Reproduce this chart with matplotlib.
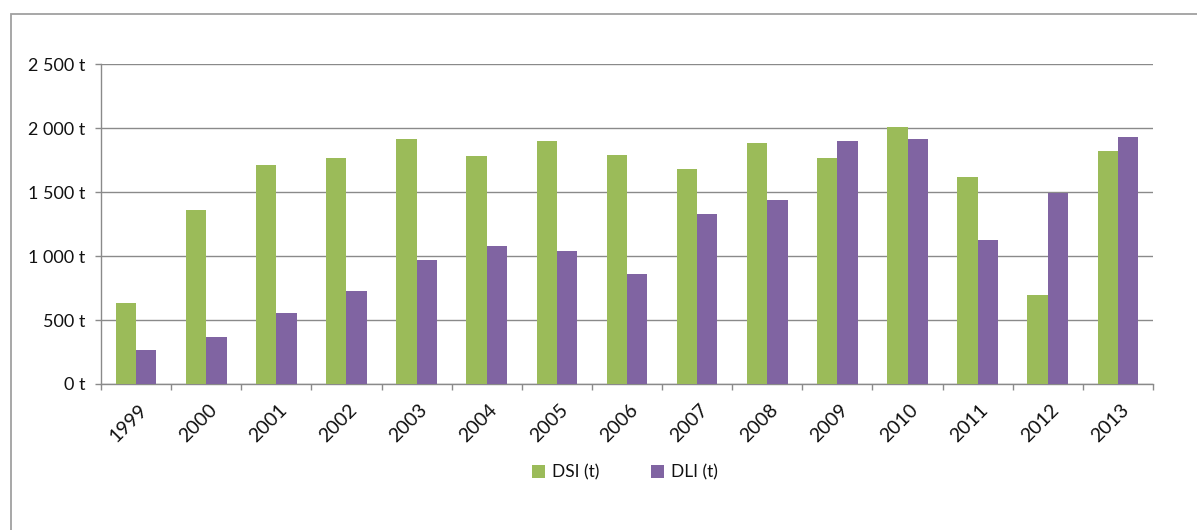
import numpy as np
import matplotlib.pyplot as plt
from matplotlib.patches import Rectangle
from matplotlib.ticker import FuncFormatter, MultipleLocator
from matplotlib.transforms import ScaledTranslation

plt.rcParams['font.family'] = ['Lato', 'DejaVu Sans']

# -----------------------------
# Data
# -----------------------------
years = ["1999", "2000", "2001", "2002", "2003", "2004", "2005", "2006",
         "2007", "2008", "2009", "2010", "2011", "2012", "2013"]
dsi = [635, 1359, 1711, 1768, 1919, 1784, 1904, 1794,
       1685, 1883, 1768, 2010, 1622, 698, 1820]
dli = [266, 365, 555, 727, 971, 1078, 1042, 862,
       1326, 1440, 1904, 1914, 1125, 1492, 1930]

GREEN = "#9BBB59"
PURPLE = "#8064A2"
GRID = "#8a8a8a"
TEXT = "#111111"

# -----------------------------
# Figure
# -----------------------------
fig = plt.figure(figsize=(11.97, 5.30), dpi=100)
ax = fig.add_axes([0.0844, 0.2755, 0.8788, 0.6032])

# outer chart frame (only left/top visible in the crop)
fig.patches.append(Rectangle((0.0092, -0.2), 1.5, 0.9736 + 0.2,
                             transform=fig.transFigure, fill=False,
                             edgecolor="#a0a0a0", lw=1.3, clip_on=False))

x = np.arange(len(years))
w = 0.29
ax.bar(x - w / 2, dsi, w, color=GREEN, label="DSI (t)", zorder=3)
ax.bar(x + w / 2, dli, w, color=PURPLE, label="DLI (t)", zorder=3)

ax.set_xlim(-0.5, len(years) - 0.5)
ax.set_ylim(0, 2500)
ax.yaxis.set_major_locator(MultipleLocator(500))
ax.yaxis.set_major_formatter(
    FuncFormatter(lambda v, p: f"{int(v):,} t".replace(",", " ")))
ax.grid(axis="y", color=GRID, lw=1.0, zorder=0)

for side in ["top", "right"]:
    ax.spines[side].set_visible(False)
for side in ["left", "bottom"]:
    ax.spines[side].set_color(GRID)
    ax.spines[side].set_linewidth(1.0)

ax.tick_params(axis="y", length=4.3, width=1.0, color=GRID, pad=7,
               labelsize=13, labelcolor=TEXT)

# labels at centres, tick marks at category boundaries
ax.set_xticks(x)
ax.set_xticklabels(years, rotation=45, ha="right", va="center",
                   rotation_mode="anchor", fontsize=14, color=TEXT)
ax.set_xticks(np.arange(-0.5, len(years)), minor=True)
ax.tick_params(axis="x", which="major", length=0, pad=16.5)
ax.tick_params(axis="x", which="minor", length=4.3, width=1.0, color=GRID)
offset = ScaledTranslation(8 / 100, 0, fig.dpi_scale_trans)
for lab in ax.get_xticklabels():
    lab.set_transform(lab.get_transform() + offset)

leg = fig.legend(loc="center", bbox_to_anchor=(0.522, 0.109), ncol=2,
                 frameon=False, fontsize=12.5, handlelength=0.75,
                 handleheight=0.75, handletextpad=0.4, columnspacing=3.0)
for t in leg.get_texts():
    t.set_color(TEXT)

plt.savefig("out.png", dpi=100)
plt.close(fig)
